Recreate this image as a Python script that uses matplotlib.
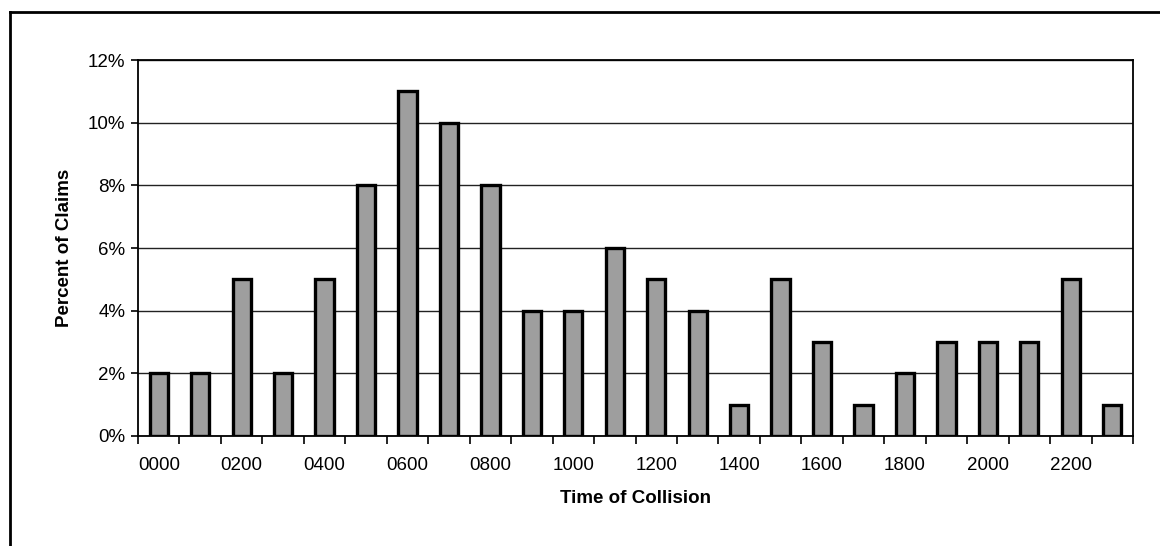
import numpy as np
import matplotlib
matplotlib.use("Agg")
from matplotlib import pyplot as plt
from matplotlib.lines import Line2D

# Data
hours = ["0000", "0100", "0200", "0300", "0400", "0500", "0600", "0700",
         "0800", "0900", "1000", "1100", "1200", "1300", "1400", "1500",
         "1600", "1700", "1800", "1900", "2000", "2100", "2200", "2300"]
percent = [2, 2, 5, 2, 5, 8, 11, 10, 8, 4, 4, 6, 5, 4, 1, 5, 3, 1, 2, 3, 3, 3, 5, 1]
ytick_vals = [0, 2, 4, 6, 8, 10, 12]

plt.rcParams['font.family'] = ['Liberation Sans', 'DejaVu Sans']

fig = plt.figure(figsize=(11.6, 5.46), dpi=100)
ax = fig.add_axes([0.119, 0.2015, 0.8577, 0.6885])

x = np.arange(len(hours))
ax.bar(x, percent, width=0.44, color='#9e9e9e', edgecolor='black', linewidth=2.4, zorder=3)

ax.set_xlim(-0.5, len(hours) - 0.5)
ax.set_ylim(0, 12)
ax.set_yticks(ytick_vals)
ax.set_yticklabels([f"{v}%" for v in ytick_vals], fontsize=13.5)
ax.yaxis.grid(True, color='#222222', linewidth=1, zorder=0)

# labels every two hours, tick marks on category boundaries
ax.set_xticks(x[::2])
ax.set_xticklabels(hours[::2], fontsize=13.5)
ax.tick_params(axis='x', length=0, pad=15)
ax.set_xticks(np.arange(-0.5, len(hours), 1), minor=True)
ax.tick_params(axis='x', which='minor', length=6, width=1.2, direction='out')
ax.tick_params(axis='y', length=5, width=1.2, direction='out', pad=4)

for s in ax.spines.values():
    s.set_linewidth(1.3)

ax.set_xlabel("Time of Collision", fontsize=13.5, fontweight='bold', labelpad=12)
ax.set_ylabel("Percent of Claims", fontsize=13.5, fontweight='bold', labelpad=11)

# outer frame of the scanned chart
fig.add_artist(Line2D([10 / 1160, 1.0], [1 - 12 / 546, 1 - 12 / 546], color='black', linewidth=2))
fig.add_artist(Line2D([10 / 1160, 10 / 1160], [0, 1 - 12 / 546], color='black', linewidth=2))

fig.savefig("out.png", dpi=100)
